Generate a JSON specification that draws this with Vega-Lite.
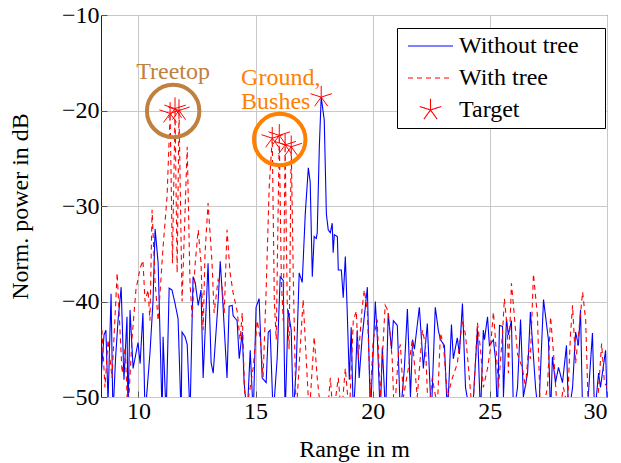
{
  "$schema": "https://vega.github.io/schema/vega-lite/v6.json",
  "width": 506,
  "height": 382,
  "autosize": {"type": "none"},
  "padding": {"left": 101, "top": 15, "right": 14, "bottom": 66},
  "config": {
    "font": "Liberation Serif, DejaVu Serif, serif",
    "view": {"stroke": "#222222", "strokeWidth": 1},
    "axis": {
      "grid": true, "gridColor": "#c8c8c8", "gridWidth": 1, "domain": false,
      "tickColor": "#555555", "tickSize": -6, "tickWidth": 1,
      "labelFont": "Liberation Serif, DejaVu Serif, serif", "labelFontSize": 24, "labelColor": "#000000",
      "titleFont": "Liberation Serif, DejaVu Serif, serif", "titleFontSize": 24, "titleFontWeight": "normal", "titleColor": "#000000"
    },
    "legend": {
      "labelFont": "Liberation Serif, DejaVu Serif, serif", "labelFontSize": 24, "labelColor": "#000000"
    }
  },
  "datasets": {
    "traces": [
      {"series":"Without tree","range":8.40,"power":-48},
      {"series":"Without tree","range":8.53,"power":-43.5},
      {"series":"Without tree","range":8.61,"power":-43},
      {"series":"Without tree","range":8.70,"power":-50.5},
      {"series":"Without tree","range":8.83,"power":-39.2},
      {"series":"Without tree","range":8.91,"power":-52},
      {"series":"Without tree","range":9.02,"power":-46},
      {"series":"Without tree","range":9.13,"power":-41.9},
      {"series":"Without tree","range":9.26,"power":-38.5},
      {"series":"Without tree","range":9.38,"power":-48.2},
      {"series":"Without tree","range":9.51,"power":-41.6},
      {"series":"Without tree","range":9.55,"power":-52},
      {"series":"Without tree","range":9.64,"power":-40.9},
      {"series":"Without tree","range":9.77,"power":-47},
      {"series":"Without tree","range":9.98,"power":-44.3},
      {"series":"Without tree","range":10.07,"power":-46.5},
      {"series":"Without tree","range":10.19,"power":-41.2},
      {"series":"Without tree","range":10.28,"power":-52},
      {"series":"Without tree","range":10.49,"power":-45.4},
      {"series":"Without tree","range":10.62,"power":-40},
      {"series":"Without tree","range":10.71,"power":-32.4},
      {"series":"Without tree","range":10.84,"power":-36},
      {"series":"Without tree","range":11.01,"power":-52},
      {"series":"Without tree","range":11.05,"power":-43.7},
      {"series":"Without tree","range":11.18,"power":-52},
      {"series":"Without tree","range":11.31,"power":-38.6},
      {"series":"Without tree","range":11.43,"power":-38.8},
      {"series":"Without tree","range":11.56,"power":-40.2},
      {"series":"Without tree","range":11.69,"power":-41.8},
      {"series":"Without tree","range":11.82,"power":-52},
      {"series":"Without tree","range":11.86,"power":-43.2},
      {"series":"Without tree","range":11.99,"power":-43.7},
      {"series":"Without tree","range":12.08,"power":-44.5},
      {"series":"Without tree","range":12.20,"power":-52},
      {"series":"Without tree","range":12.33,"power":-37.4},
      {"series":"Without tree","range":12.42,"power":-38},
      {"series":"Without tree","range":12.55,"power":-40.4},
      {"series":"Without tree","range":12.67,"power":-38.8},
      {"series":"Without tree","range":12.76,"power":-48},
      {"series":"Without tree","range":12.97,"power":-36},
      {"series":"Without tree","range":13.10,"power":-46.4},
      {"series":"Without tree","range":13.19,"power":-47.5},
      {"series":"Without tree","range":13.40,"power":-40},
      {"series":"Without tree","range":13.49,"power":-35.8},
      {"series":"Without tree","range":13.61,"power":-40.5},
      {"series":"Without tree","range":13.78,"power":-48},
      {"series":"Without tree","range":13.87,"power":-40.5},
      {"series":"Without tree","range":14.00,"power":-40.4},
      {"series":"Without tree","range":14.04,"power":-41.5},
      {"series":"Without tree","range":14.21,"power":-42},
      {"series":"Without tree","range":14.30,"power":-46},
      {"series":"Without tree","range":14.43,"power":-43.2},
      {"series":"Without tree","range":14.51,"power":-48.5},
      {"series":"Without tree","range":14.64,"power":-52},
      {"series":"Without tree","range":14.77,"power":-45.1},
      {"series":"Without tree","range":14.90,"power":-52},
      {"series":"Without tree","range":15.02,"power":-40.6},
      {"series":"Without tree","range":15.15,"power":-39.7},
      {"series":"Without tree","range":15.28,"power":-48},
      {"series":"Without tree","range":15.45,"power":-48.5},
      {"series":"Without tree","range":15.54,"power":-43.2},
      {"series":"Without tree","range":15.62,"power":-43},
      {"series":"Without tree","range":15.75,"power":-52},
      {"series":"Without tree","range":15.92,"power":-46},
      {"series":"Without tree","range":16.05,"power":-37.4},
      {"series":"Without tree","range":16.18,"power":-37.8},
      {"series":"Without tree","range":16.26,"power":-52},
      {"series":"Without tree","range":16.39,"power":-40.9},
      {"series":"Without tree","range":16.52,"power":-43},
      {"series":"Without tree","range":16.61,"power":-52},
      {"series":"Without tree","range":16.73,"power":-47},
      {"series":"Without tree","range":16.86,"power":-37},
      {"series":"Without tree","range":16.99,"power":-38},
      {"series":"Without tree","range":17.12,"power":-30.8},
      {"series":"Without tree","range":17.25,"power":-26},
      {"series":"Without tree","range":17.33,"power":-27.5},
      {"series":"Without tree","range":17.42,"power":-37.4},
      {"series":"Without tree","range":17.50,"power":-33.2},
      {"series":"Without tree","range":17.59,"power":-33.4},
      {"series":"Without tree","range":17.63,"power":-32.8},
      {"series":"Without tree","range":17.72,"power":-23.8},
      {"series":"Without tree","range":17.80,"power":-18.6},
      {"series":"Without tree","range":17.93,"power":-21},
      {"series":"Without tree","range":18.02,"power":-30.8},
      {"series":"Without tree","range":18.10,"power":-32.5},
      {"series":"Without tree","range":18.19,"power":-32.8},
      {"series":"Without tree","range":18.27,"power":-31.8},
      {"series":"Without tree","range":18.31,"power":-34.9},
      {"series":"Without tree","range":18.36,"power":-33},
      {"series":"Without tree","range":18.49,"power":-33.2},
      {"series":"Without tree","range":18.53,"power":-36.7},
      {"series":"Without tree","range":18.66,"power":-36.7},
      {"series":"Without tree","range":18.74,"power":-39.6},
      {"series":"Without tree","range":18.83,"power":-35.3},
      {"series":"Without tree","range":18.91,"power":-41},
      {"series":"Without tree","range":19.00,"power":-48.2},
      {"series":"Without tree","range":19.08,"power":-42.7},
      {"series":"Without tree","range":19.17,"power":-52},
      {"series":"Without tree","range":19.25,"power":-48.5},
      {"series":"Without tree","range":19.34,"power":-43},
      {"series":"Without tree","range":19.42,"power":-48},
      {"series":"Without tree","range":19.55,"power":-43.7},
      {"series":"Without tree","range":19.77,"power":-38.5},
      {"series":"Without tree","range":19.90,"power":-52},
      {"series":"Without tree","range":20.11,"power":-40},
      {"series":"Without tree","range":20.20,"power":-44},
      {"series":"Without tree","range":20.32,"power":-52},
      {"series":"Without tree","range":20.41,"power":-44.8},
      {"series":"Without tree","range":20.55,"power":-52},
      {"series":"Without tree","range":20.66,"power":-41.2},
      {"series":"Without tree","range":20.80,"power":-45},
      {"series":"Without tree","range":20.88,"power":-42},
      {"series":"Without tree","range":21.05,"power":-42.5},
      {"series":"Without tree","range":21.18,"power":-52},
      {"series":"Without tree","range":21.35,"power":-47},
      {"series":"Without tree","range":21.48,"power":-40.8},
      {"series":"Without tree","range":21.61,"power":-50},
      {"series":"Without tree","range":21.70,"power":-44},
      {"series":"Without tree","range":21.78,"power":-45},
      {"series":"Without tree","range":21.99,"power":-40.6},
      {"series":"Without tree","range":22.16,"power":-47},
      {"series":"Without tree","range":22.33,"power":-42.3},
      {"series":"Without tree","range":22.50,"power":-52},
      {"series":"Without tree","range":22.67,"power":-40.6},
      {"series":"Without tree","range":22.80,"power":-43},
      {"series":"Without tree","range":22.89,"power":-44},
      {"series":"Without tree","range":23.06,"power":-44.6},
      {"series":"Without tree","range":23.19,"power":-52},
      {"series":"Without tree","range":23.36,"power":-42.4},
      {"series":"Without tree","range":23.44,"power":-46},
      {"series":"Without tree","range":23.61,"power":-43.8},
      {"series":"Without tree","range":23.70,"power":-45.5},
      {"series":"Without tree","range":23.83,"power":-40.2},
      {"series":"Without tree","range":23.96,"power":-49},
      {"series":"Without tree","range":24.17,"power":-52},
      {"series":"Without tree","range":24.30,"power":-50},
      {"series":"Without tree","range":24.47,"power":-42.8},
      {"series":"Without tree","range":24.60,"power":-52},
      {"series":"Without tree","range":24.72,"power":-43},
      {"series":"Without tree","range":24.77,"power":-44},
      {"series":"Without tree","range":24.90,"power":-41.6},
      {"series":"Without tree","range":24.98,"power":-44.6},
      {"series":"Without tree","range":25.15,"power":-44},
      {"series":"Without tree","range":25.24,"power":-46},
      {"series":"Without tree","range":25.32,"power":-52},
      {"series":"Without tree","range":25.41,"power":-42.5},
      {"series":"Without tree","range":25.54,"power":-42.6},
      {"series":"Without tree","range":25.58,"power":-50},
      {"series":"Without tree","range":25.71,"power":-41.8},
      {"series":"Without tree","range":25.79,"power":-43.5},
      {"series":"Without tree","range":25.92,"power":-42},
      {"series":"Without tree","range":26.01,"power":-52},
      {"series":"Without tree","range":26.18,"power":-49},
      {"series":"Without tree","range":26.31,"power":-41.9},
      {"series":"Without tree","range":26.43,"power":-50},
      {"series":"Without tree","range":26.61,"power":-47.5},
      {"series":"Without tree","range":26.73,"power":-41.1},
      {"series":"Without tree","range":26.95,"power":-49},
      {"series":"Without tree","range":27.08,"power":-52},
      {"series":"Without tree","range":27.29,"power":-39.8},
      {"series":"Without tree","range":27.50,"power":-44},
      {"series":"Without tree","range":27.59,"power":-52},
      {"series":"Without tree","range":27.67,"power":-45.8},
      {"series":"Without tree","range":27.80,"power":-48.5},
      {"series":"Without tree","range":27.93,"power":-46.9},
      {"series":"Without tree","range":28.10,"power":-48.5},
      {"series":"Without tree","range":28.27,"power":-44.6},
      {"series":"Without tree","range":28.36,"power":-52},
      {"series":"Without tree","range":28.53,"power":-49},
      {"series":"Without tree","range":28.66,"power":-43.2},
      {"series":"Without tree","range":28.78,"power":-44.6},
      {"series":"Without tree","range":28.87,"power":-40.9},
      {"series":"Without tree","range":28.96,"power":-52},
      {"series":"Without tree","range":29.17,"power":-51},
      {"series":"Without tree","range":29.38,"power":-43.3},
      {"series":"Without tree","range":29.47,"power":-52},
      {"series":"Without tree","range":29.64,"power":-47.5},
      {"series":"Without tree","range":29.72,"power":-49},
      {"series":"Without tree","range":29.94,"power":-45.1},
      {"series":"Without tree","range":30.02,"power":-52},
      {"series":"With tree","range":8.40,"power":-44},
      {"series":"With tree","range":8.44,"power":-43},
      {"series":"With tree","range":8.57,"power":-49},
      {"series":"With tree","range":8.70,"power":-44},
      {"series":"With tree","range":8.87,"power":-48},
      {"series":"With tree","range":9.09,"power":-37},
      {"series":"With tree","range":9.30,"power":-47.5},
      {"series":"With tree","range":9.43,"power":-44.8},
      {"series":"With tree","range":9.55,"power":-52},
      {"series":"With tree","range":9.72,"power":-44},
      {"series":"With tree","range":9.89,"power":-38.8},
      {"series":"With tree","range":10.07,"power":-36.5},
      {"series":"With tree","range":10.19,"power":-35.7},
      {"series":"With tree","range":10.28,"power":-40},
      {"series":"With tree","range":10.41,"power":-38.8},
      {"series":"With tree","range":10.49,"power":-42},
      {"series":"With tree","range":10.58,"power":-30.4},
      {"series":"With tree","range":10.71,"power":-38},
      {"series":"With tree","range":10.84,"power":-42},
      {"series":"With tree","range":11.05,"power":-34.3},
      {"series":"With tree","range":11.22,"power":-29},
      {"series":"With tree","range":11.35,"power":-20.3},
      {"series":"With tree","range":11.45,"power":-36},
      {"series":"With tree","range":11.56,"power":-19.8},
      {"series":"With tree","range":11.65,"power":-37},
      {"series":"With tree","range":11.73,"power":-20},
      {"series":"With tree","range":11.86,"power":-40},
      {"series":"With tree","range":12.08,"power":-23.8},
      {"series":"With tree","range":12.20,"power":-38.1},
      {"series":"With tree","range":12.29,"power":-41.6},
      {"series":"With tree","range":12.42,"power":-36},
      {"series":"With tree","range":12.55,"power":-32.5},
      {"series":"With tree","range":12.67,"power":-36},
      {"series":"With tree","range":12.76,"power":-43},
      {"series":"With tree","range":12.84,"power":-35},
      {"series":"With tree","range":12.97,"power":-29.7},
      {"series":"With tree","range":13.14,"power":-36},
      {"series":"With tree","range":13.23,"power":-41.2},
      {"series":"With tree","range":13.40,"power":-37.7},
      {"series":"With tree","range":13.57,"power":-38.5},
      {"series":"With tree","range":13.66,"power":-41.2},
      {"series":"With tree","range":13.78,"power":-32.5},
      {"series":"With tree","range":13.91,"power":-37},
      {"series":"With tree","range":14.04,"power":-39.1},
      {"series":"With tree","range":14.21,"power":-41},
      {"series":"With tree","range":14.34,"power":-44},
      {"series":"With tree","range":14.43,"power":-41.2},
      {"series":"With tree","range":14.56,"power":-52},
      {"series":"With tree","range":14.77,"power":-49},
      {"series":"With tree","range":14.90,"power":-46.9},
      {"series":"With tree","range":15.07,"power":-42},
      {"series":"With tree","range":15.20,"power":-44},
      {"series":"With tree","range":15.32,"power":-47.9},
      {"series":"With tree","range":15.45,"power":-38.8},
      {"series":"With tree","range":15.58,"power":-28},
      {"series":"With tree","range":15.71,"power":-22.9},
      {"series":"With tree","range":15.80,"power":-40},
      {"series":"With tree","range":15.88,"power":-44},
      {"series":"With tree","range":16.01,"power":-22.6},
      {"series":"With tree","range":16.10,"power":-38},
      {"series":"With tree","range":16.18,"power":-42},
      {"series":"With tree","range":16.26,"power":-23.6},
      {"series":"With tree","range":16.35,"power":-40},
      {"series":"With tree","range":16.43,"power":-45},
      {"series":"With tree","range":16.52,"power":-23.8},
      {"series":"With tree","range":16.61,"power":-37.7},
      {"series":"With tree","range":16.73,"power":-52},
      {"series":"With tree","range":16.90,"power":-45},
      {"series":"With tree","range":17.03,"power":-39.8},
      {"series":"With tree","range":17.16,"power":-46},
      {"series":"With tree","range":17.29,"power":-52},
      {"series":"With tree","range":17.50,"power":-43.7},
      {"series":"With tree","range":17.63,"power":-48},
      {"series":"With tree","range":17.80,"power":-52},
      {"series":"With tree","range":18.06,"power":-52},
      {"series":"With tree","range":18.19,"power":-48},
      {"series":"With tree","range":18.31,"power":-52},
      {"series":"With tree","range":18.53,"power":-48},
      {"series":"With tree","range":18.66,"power":-52},
      {"series":"With tree","range":18.83,"power":-47},
      {"series":"With tree","range":19.00,"power":-52},
      {"series":"With tree","range":19.17,"power":-42},
      {"series":"With tree","range":19.30,"power":-41},
      {"series":"With tree","range":19.38,"power":-46},
      {"series":"With tree","range":19.55,"power":-40.6},
      {"series":"With tree","range":19.64,"power":-38.8},
      {"series":"With tree","range":19.77,"power":-41},
      {"series":"With tree","range":19.90,"power":-50},
      {"series":"With tree","range":20.02,"power":-44},
      {"series":"With tree","range":20.19,"power":-41.9},
      {"series":"With tree","range":20.32,"power":-50},
      {"series":"With tree","range":20.53,"power":-40.4},
      {"series":"With tree","range":20.66,"power":-41},
      {"series":"With tree","range":20.83,"power":-46},
      {"series":"With tree","range":20.92,"power":-52},
      {"series":"With tree","range":21.10,"power":-45.4},
      {"series":"With tree","range":21.18,"power":-44.5},
      {"series":"With tree","range":21.31,"power":-50},
      {"series":"With tree","range":21.52,"power":-47},
      {"series":"With tree","range":21.69,"power":-44},
      {"series":"With tree","range":21.90,"power":-50},
      {"series":"With tree","range":22.12,"power":-43},
      {"series":"With tree","range":22.25,"power":-44.5},
      {"series":"With tree","range":22.37,"power":-52},
      {"series":"With tree","range":22.54,"power":-48},
      {"series":"With tree","range":22.76,"power":-51},
      {"series":"With tree","range":22.89,"power":-43.3},
      {"series":"With tree","range":23.02,"power":-44.6},
      {"series":"With tree","range":23.19,"power":-50},
      {"series":"With tree","range":23.40,"power":-48},
      {"series":"With tree","range":23.61,"power":-46.5},
      {"series":"With tree","range":23.83,"power":-41.9},
      {"series":"With tree","range":23.96,"power":-43.5},
      {"series":"With tree","range":24.09,"power":-47},
      {"series":"With tree","range":24.26,"power":-52},
      {"series":"With tree","range":24.39,"power":-46},
      {"series":"With tree","range":24.47,"power":-42.2},
      {"series":"With tree","range":24.60,"power":-45},
      {"series":"With tree","range":24.72,"power":-49},
      {"series":"With tree","range":24.90,"power":-47},
      {"series":"With tree","range":25.02,"power":-45},
      {"series":"With tree","range":25.15,"power":-41.1},
      {"series":"With tree","range":25.24,"power":-44},
      {"series":"With tree","range":25.37,"power":-49},
      {"series":"With tree","range":25.54,"power":-43.3},
      {"series":"With tree","range":25.62,"power":-39.7},
      {"series":"With tree","range":25.75,"power":-43},
      {"series":"With tree","range":25.79,"power":-47.5},
      {"series":"With tree","range":25.92,"power":-38.1},
      {"series":"With tree","range":26.01,"power":-40.5},
      {"series":"With tree","range":26.18,"power":-45.5},
      {"series":"With tree","range":26.39,"power":-47},
      {"series":"With tree","range":26.52,"power":-49},
      {"series":"With tree","range":26.65,"power":-45},
      {"series":"With tree","range":26.73,"power":-46},
      {"series":"With tree","range":26.86,"power":-37.1},
      {"series":"With tree","range":27.03,"power":-41.5},
      {"series":"With tree","range":27.16,"power":-52},
      {"series":"With tree","range":27.29,"power":-51},
      {"series":"With tree","range":27.46,"power":-49},
      {"series":"With tree","range":27.59,"power":-41.6},
      {"series":"With tree","range":27.72,"power":-45.5},
      {"series":"With tree","range":27.89,"power":-52},
      {"series":"With tree","range":28.01,"power":-51},
      {"series":"With tree","range":28.14,"power":-49},
      {"series":"With tree","range":28.31,"power":-51},
      {"series":"With tree","range":28.44,"power":-43.5},
      {"series":"With tree","range":28.53,"power":-40.4},
      {"series":"With tree","range":28.66,"power":-46.5},
      {"series":"With tree","range":28.78,"power":-43.5},
      {"series":"With tree","range":28.96,"power":-39},
      {"series":"With tree","range":29.09,"power":-42},
      {"series":"With tree","range":29.21,"power":-52},
      {"series":"With tree","range":29.42,"power":-52},
      {"series":"With tree","range":29.59,"power":-51},
      {"series":"With tree","range":29.77,"power":-44.4},
      {"series":"With tree","range":29.89,"power":-48.5},
      {"series":"With tree","range":30.02,"power":-49}
    ],
    "targets": [
      {"series":"Target","range":11.35,"power":-20.3},
      {"series":"Target","range":11.56,"power":-19.8},
      {"series":"Target","range":11.73,"power":-20.0},
      {"series":"Target","range":15.71,"power":-22.9},
      {"series":"Target","range":16.01,"power":-22.6},
      {"series":"Target","range":16.26,"power":-23.6},
      {"series":"Target","range":16.52,"power":-23.8},
      {"series":"Target","range":17.80,"power":-18.6}
    ],
    "treetop": [
      {"note":"Treetop","range":11.48,"power":-20.05,"labelPower":-16.75}
    ],
    "ground": [
      {"note":"Ground,\nBushes","range":16.03,"power":-23.04,"labelRange":14.38,"labelPower":-17.3}
    ]
  },
  "layer": [
    {
      "data": {"name": "traces"},
      "mark": {"type": "line", "clip": true, "strokeWidth": 1.1},
      "encoding": {
        "x": {"field": "range", "type": "quantitative", "scale": {"domain": [8.4, 30], "nice": false, "zero": false},
              "axis": {"title": "Range in m", "values": [10, 15, 20, 25, 30], "labelPadding": 8, "titlePadding": 14}},
        "y": {"field": "power", "type": "quantitative", "scale": {"domain": [-50, -10], "nice": false, "zero": false},
              "axis": {"title": "Norm. power in dB", "values": [-50, -40, -30, -20, -10], "labelPadding": 8, "titlePadding": 29}},
        "color": {"field": "series", "type": "nominal",
                  "scale": {"domain": ["Without tree", "With tree", "Target"], "range": ["#0000ff", "#ff0000", "#ff0000"]},
                  "legend": {"title": null, "orient": "none", "legendX": 296, "legendY": 13, "strokeColor": "#000000", "fillColor": "#ffffff",
                             "padding": 3, "rowPadding": 2, "clipHeight": 30, "symbolSize": 2025, "symbolStrokeWidth": 1.1,
                             "symbolOffset": 7, "labelOffset": 5, "cornerRadius": 0,
                             "encode": {"entries": {"update": {"width": {"value": 202}}}}}},
        "strokeDash": {"field": "series", "type": "nominal",
                       "scale": {"domain": ["Without tree", "With tree", "Target"], "range": [[1, 0], [5, 4], [1, 0]]}}
      }
    },
    {
      "data": {"name": "targets"},
      "mark": {"type": "point", "filled": false, "strokeWidth": 1, "size": 2025, "opacity": 1},
      "encoding": {
        "x": {"field": "range", "type": "quantitative"},
        "y": {"field": "power", "type": "quantitative"},
        "color": {"field": "series", "type": "nominal"},
        "shape": {"field": "series", "type": "nominal",
                  "scale": {"domain": ["Without tree", "With tree", "Target"],
                            "range": ["stroke", "stroke", "M0,0L0,-0.5M0,0L-0.476,-0.155M0,0L-0.294,0.405M0,0L0.294,0.405M0,0L0.476,-0.155"]}}
      }
    },
    {
      "data": {"name": "treetop"},
      "mark": {"type": "point", "shape": "circle", "filled": false, "stroke": "#bf8040", "strokeWidth": 4, "size": 2750, "opacity": 1},
      "encoding": {
        "x": {"field": "range", "type": "quantitative"},
        "y": {"field": "power", "type": "quantitative"}
      }
    },
    {
      "data": {"name": "ground"},
      "mark": {"type": "point", "shape": "circle", "filled": false, "stroke": "#ff8000", "strokeWidth": 4, "size": 2650, "opacity": 1},
      "encoding": {
        "x": {"field": "range", "type": "quantitative"},
        "y": {"field": "power", "type": "quantitative"}
      }
    },
    {
      "data": {"name": "treetop"},
      "mark": {"type": "text", "fontSize": 24, "font": "Liberation Serif, DejaVu Serif, serif", "baseline": "alphabetic", "align": "center", "color": "#bf8040"},
      "encoding": {
        "x": {"field": "range", "type": "quantitative"},
        "y": {"field": "labelPower", "type": "quantitative"},
        "text": {"field": "note"}
      }
    },
    {
      "data": {"name": "ground"},
      "mark": {"type": "text", "fontSize": 24, "font": "Liberation Serif, DejaVu Serif, serif", "baseline": "alphabetic", "align": "left", "color": "#ff8000", "lineBreak": "\n", "lineHeight": 24},
      "encoding": {
        "x": {"field": "labelRange", "type": "quantitative"},
        "y": {"field": "labelPower", "type": "quantitative"},
        "text": {"field": "note"}
      }
    }
  ]
}
